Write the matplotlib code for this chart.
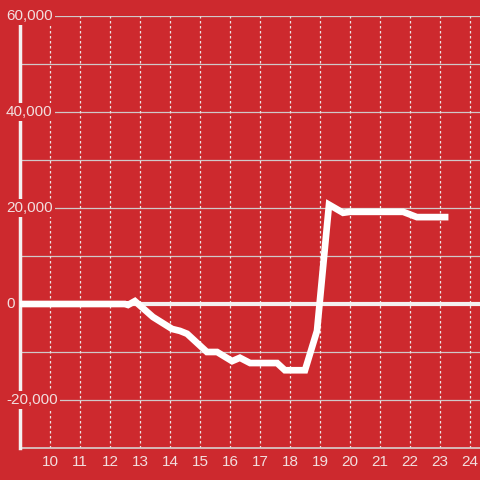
import matplotlib
matplotlib.use("Agg")
import matplotlib.pyplot as plt
from matplotlib.transforms import blended_transform_factory

hours = [9.0, 12.5, 12.6, 12.83, 13.43, 14.07, 14.33, 14.57, 15.23, 15.57, 16.07, 16.33,
         16.67, 17.57, 17.83, 18.5, 18.9, 19.3, 19.77, 20.0, 21.77, 22.23, 23.17]
values = [0, 0, -200, 600, -2700, -5200, -5600, -6200, -10000, -10000, -11900, -11200,
          -12300, -12300, -13800, -13800, -5600, 20700, 19000, 19200, 19200, 18100, 18100]

x_ticks = list(range(10, 25))
y_ticks = [-20000, 0, 20000, 40000, 60000]
y_grid = list(range(-20000, 60001, 10000))

BG = "#cd292e"
TXT = "#f2dede"

plt.rcParams['font.family'] = ['Liberation Sans', 'DejaVu Sans']
fig = plt.figure(figsize=(4.8, 4.8), dpi=100, facecolor=BG)
ax = fig.add_axes([20 / 480, 32 / 480, 460 / 480, 432 / 480])
ax.set_facecolor(BG)
ax.set_xlim(9, 9 + 460 / 30)
ax.set_ylim(-30000, 60000)

for s in ['top', 'right']:
    ax.spines[s].set_visible(False)
ax.spines['left'].set_color('#f4f0f0')
ax.spines['left'].set_linewidth(2.5)
ax.spines['left'].set_zorder(3)
ax.spines['bottom'].set_color('#d8d0d0')
ax.spines['bottom'].set_linewidth(1.2)

for yv in y_grid:
    if yv == 0:
        ax.axhline(yv, color='#f4f0f0', lw=3, zorder=2)
    else:
        ax.axhline(yv, color='#d0c8c8', lw=0.9, zorder=1)
for xv in x_ticks:
    ax.axvline(xv, color='#ece4e4', lw=0.9, ls=(0, (2, 2)), zorder=1)

ax.plot(hours, values, color='white', lw=4.8, solid_joinstyle='miter', zorder=4)

ax.set_xticks(x_ticks)
ax.set_xticklabels([str(t) for t in x_ticks], color=TXT, fontsize=11)
ax.tick_params(axis='x', length=0, pad=5)
ax.set_yticks([])

trans = blended_transform_factory(fig.transFigure, ax.transData)
for yv in y_ticks:
    ax.text(6 / 480, yv, f"{yv:,}", transform=trans, ha='left', va='center',
            color=TXT, fontsize=11, zorder=6, clip_on=False,
            bbox=dict(boxstyle='square,pad=0.15', fc=BG, ec='none'))

fig.savefig("out.png", dpi=100, facecolor=BG)
